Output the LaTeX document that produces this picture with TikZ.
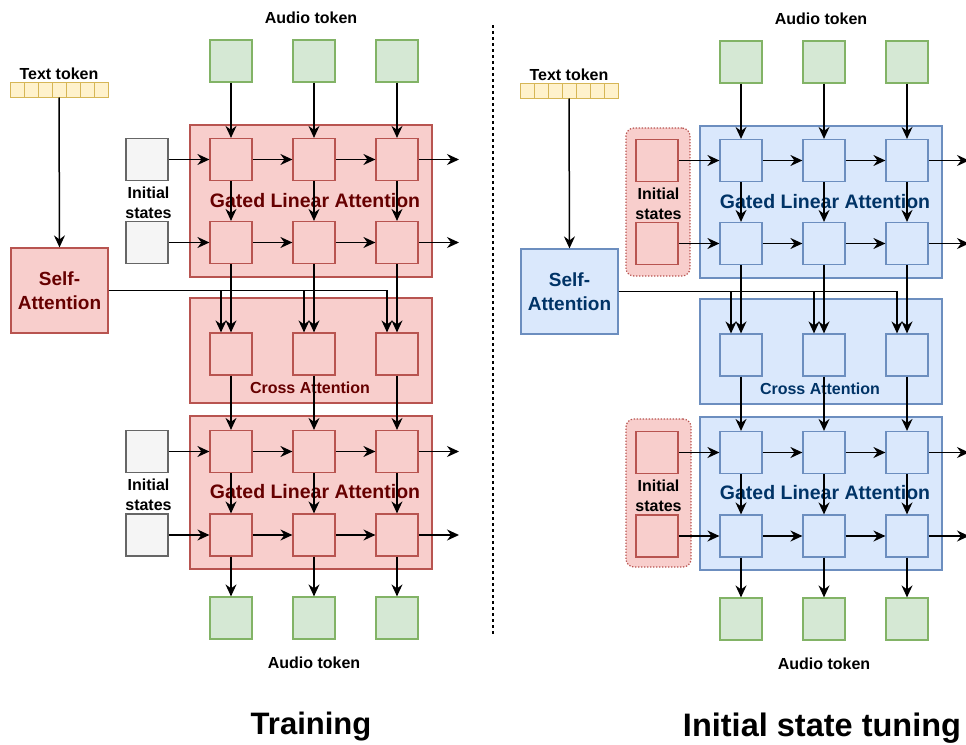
\documentclass[tikz,border=0pt]{standalone}
\usepackage{fontspec}
\setmainfont{Liberation Sans}
\usetikzlibrary{arrows.meta}
\definecolor{redfill}{HTML}{F8CECC}
\definecolor{redline}{HTML}{B85450}
\definecolor{redtext}{HTML}{660000}
\definecolor{bluefill}{HTML}{DAE8FC}
\definecolor{blueline}{HTML}{6C8EBF}
\definecolor{bluetext}{HTML}{003366}
\definecolor{greenfill}{HTML}{D5E8D4}
\definecolor{greenline}{HTML}{82B366}
\definecolor{grayfill}{HTML}{F5F5F5}
\definecolor{grayline}{HTML}{666666}
\definecolor{yelfill}{HTML}{FFF2CC}
\definecolor{yelline}{HTML}{D6B656}
\tikzset{
  arr/.style={draw=black, line width=1.5pt, -{Stealth[length=12pt,width=11pt,inset=4pt]}},
  cell/.style={draw, line width=1.2pt, minimum width=42pt, minimum height=42pt, inner sep=0pt},
  region/.style={draw, line width=1.1pt, inner sep=0pt, minimum width=242pt},
  tcell/.style={draw=yelline, fill=yelfill, line width=1pt, minimum width=14pt, minimum height=15pt, inner sep=0pt},
  lbl/.style={font=\bfseries\fontsize{16}{20}\selectfont, inner sep=0pt, align=center},
  biglbl/.style={font=\bfseries\fontsize{19.5}{24}\selectfont, inner sep=0pt, align=center},
  grp/.style={draw=redline, fill=redfill, line width=1.2pt, dash pattern=on 1.3pt off 1.7pt, rounded corners=8pt, inner sep=0pt},
  title/.style={font=\bfseries\fontsize{31}{36}\selectfont, inner sep=0pt},
}
% #1 prefix, #2 fill, #3 line, #4 text colour, #5 init-box style
\newcommand\mypanel[5]{%
  % regions
  \node[region, fill=#2, draw=#3, minimum height=152pt] (#1rg1) at (311,201) {};
  \node[region, fill=#2, draw=#3, minimum height=105pt] (#1rc) at (311,350.5) {};
  \node[region, fill=#2, draw=#3, minimum height=153pt] (#1rg2) at (311,492.5) {};
  \node[biglbl, text=#4] (#1lg1) at (315,201) {Gated Linear Attention};
  \node[lbl, text=#4] (#1lc) at (310,388) {Cross Attention};
  \node[biglbl, text=#4] (#1lg2) at (315,492) {Gated Linear Attention};
  % labels
  \node[lbl] (#1lat) at (311,18) {Audio token};
  \node[lbl] (#1lab) at (314,663) {Audio token};
  \node[lbl] (#1ltt) at (59,74) {Text token};
  \node[lbl] (#1lis1) at (148.5,203) {Initial\\states};
  \node[lbl] (#1lis2) at (148.5,495) {Initial\\states};
  % text token cells
  \foreach \k in {1,...,7} {\node[tcell] (#1t\k) at ({10+14*\k-7},89.5) {};}
  % self attention
  \node[draw=#3, fill=#2, line width=1.2pt, minimum width=97pt, minimum height=85pt, inner sep=0pt,
        font=\bfseries\fontsize{19}{24}\selectfont, align=center, text=#4] (#1sa) at (59.5,290.5) {Self-\\Attention};
  % cells
  \foreach \c/\x in {1/231,2/314,3/397} {
    \node[cell, fill=greenfill, draw=greenline] (#1a\c) at (\x,61) {};
    \node[cell, fill=greenfill, draw=greenline] (#1b\c) at (\x,618) {};
    \node[cell, fill=#2, draw=#3] (#1g1\c) at (\x,159.5) {};
    \node[cell, fill=#2, draw=#3] (#1g2\c) at (\x,242.5) {};
    \node[cell, fill=#2, draw=#3] (#1c\c) at (\x,354) {};
    \node[cell, fill=#2, draw=#3] (#1h1\c) at (\x,451.5) {};
    \node[cell, fill=#2, draw=#3] (#1h2\c) at (\x,535) {};
  }
  % initial states
  \node[cell, #5] (#1i1) at (147,159.5) {};
  \node[cell, #5] (#1i2) at (147,242.5) {};
  \node[cell, #5] (#1j1) at (147,451.5) {};
  \node[cell, #5] (#1j2) at (147,535) {};
  % output coordinates
  \coordinate (#1o1) at (459,159.5);
  \coordinate (#1o2) at (459,242.5);
  \coordinate (#1o3) at (459,451.5);
  \coordinate (#1o4) at (459,535);
  % arrows
  \draw[arr] (#1t4.south) -- (#1sa.north);
  \draw[arr] (#1i1) -- (#1g11);
  \draw[arr] (#1i2) -- (#1g21);
  \draw[arr] (#1j1) -- (#1h11);
  \draw[arr] (#1j2) -- (#1h21);
  \foreach \r/\n in {g1/1,g2/2,h1/3,h2/4} {
    \draw[arr] (#1\r1) -- (#1\r2);
    \draw[arr] (#1\r2) -- (#1\r3);
    \draw[arr] (#1\r3) -- (#1o\n);
  }
  \foreach \c in {1,2,3} {
    \draw[arr] (#1a\c) -- (#1g1\c);
    \draw[arr] (#1g1\c) -- (#1g2\c);
    \draw[arr] (#1g2\c) -- (#1c\c);
    \draw[arr] (#1c\c) -- (#1h1\c);
    \draw[arr] (#1h1\c) -- (#1h2\c);
    \draw[arr] (#1h2\c) -- (#1b\c);
    \draw[arr] (#1sa.east) -| ([xshift=-10pt]#1c\c.north);
  }
}
\begin{document}
\begin{tikzpicture}[x=1pt, y=-1pt]
  \useasboundingbox (0,0) rectangle (966,744);
  \fill[white] (0,0) rectangle (966,744);
  \begin{scope}
    \mypanel{L}{redfill}{redline}{redtext}{fill=grayfill, draw=grayline}
  \end{scope}
  \begin{scope}[shift={(510,1)}]
    \node[grp, minimum width=64pt, minimum height=148pt] (Rgrp1) at (148,201) {};
    \node[grp, minimum width=65pt, minimum height=148pt] (Rgrp2) at (148.5,492) {};
    \mypanel{R}{bluefill}{blueline}{bluetext}{fill=redfill, draw=redline}
  \end{scope}
  \coordinate (d1) at (493,25);
  \coordinate (d2) at (493,635);
  \draw[line width=1.2pt, dash pattern=on 3pt off 3pt] (d1) -- (d2);
  \node[title] (t1) at (311,727) {Training};
  \node[title, font=\bfseries\fontsize{32.5}{38}\selectfont] (t2) at (822,728) {Initial state tuning};
\end{tikzpicture}
\end{document}
